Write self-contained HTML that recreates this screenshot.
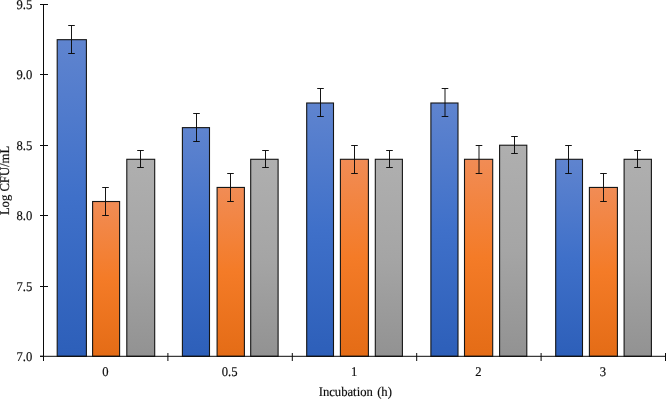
<!DOCTYPE html>
<html><head><meta charset="utf-8"><title>Chart</title>
<style>html,body{margin:0;padding:0;background:#fff}svg{display:block}</style></head>
<body>
<svg width="666" height="399" viewBox="0 0 666 399">
<defs>
<linearGradient id="gb" x1="0" y1="0" x2="0" y2="1"><stop offset="0" stop-color="#5f84cf"/><stop offset="0.5" stop-color="#3f70c9"/><stop offset="1" stop-color="#2d5fb9"/></linearGradient>
<linearGradient id="go" x1="0" y1="0" x2="0" y2="1"><stop offset="0" stop-color="#f18c55"/><stop offset="0.5" stop-color="#f47b27"/><stop offset="1" stop-color="#e46c16"/></linearGradient>
<linearGradient id="gg" x1="0" y1="0" x2="0" y2="1"><stop offset="0" stop-color="#afafaf"/><stop offset="0.5" stop-color="#a5a5a5"/><stop offset="1" stop-color="#929292"/></linearGradient>
</defs>
<rect width="666" height="399" fill="#fff"/>
<g stroke="#151515" stroke-width="1.1">
<rect x="57.20" y="39.68" width="29.20" height="316.62" fill="url(#gb)"/>
<rect x="92.60" y="201.51" width="27.00" height="154.79" fill="url(#go)"/>
<rect x="126.80" y="159.29" width="27.90" height="197.01" fill="url(#gg)"/>
<rect x="182.40" y="127.63" width="27.10" height="228.67" fill="url(#gb)"/>
<rect x="217.10" y="187.44" width="27.30" height="168.86" fill="url(#go)"/>
<rect x="250.70" y="159.29" width="27.40" height="197.01" fill="url(#gg)"/>
<rect x="306.70" y="103.00" width="26.80" height="253.30" fill="url(#gb)"/>
<rect x="340.40" y="159.29" width="28.00" height="197.01" fill="url(#go)"/>
<rect x="375.30" y="159.29" width="27.10" height="197.01" fill="url(#gg)"/>
<rect x="430.90" y="103.00" width="27.10" height="253.30" fill="url(#gb)"/>
<rect x="464.50" y="159.29" width="28.20" height="197.01" fill="url(#go)"/>
<rect x="499.60" y="145.22" width="27.20" height="211.08" fill="url(#gg)"/>
<rect x="555.70" y="159.29" width="26.80" height="197.01" fill="url(#gb)"/>
<rect x="589.40" y="187.44" width="28.00" height="168.86" fill="url(#go)"/>
<rect x="624.10" y="159.29" width="27.30" height="197.01" fill="url(#gg)"/>
</g>
<path d="M71.5 25.5V53.5M68.2 25.5h6.6M68.2 53.5h6.6M105.5 187.5V215.5M102.2 187.5h6.6M102.2 215.5h6.6M140.5 150.5V167.5M137.2 150.5h6.6M137.2 167.5h6.6M196.5 113.5V141.5M193.2 113.5h6.6M193.2 141.5h6.6M230.5 173.5V201.5M227.2 173.5h6.6M227.2 201.5h6.6M265.5 150.5V167.5M262.2 150.5h6.6M262.2 167.5h6.6M320.5 88.5V116.5M317.2 88.5h6.6M317.2 116.5h6.6M354.5 145.5V173.5M351.2 145.5h6.6M351.2 173.5h6.6M389.5 150.5V167.5M386.2 150.5h6.6M386.2 167.5h6.6M445.0 88.5V116.5M441.7 88.5h6.6M441.7 116.5h6.6M479.0 145.5V173.5M475.7 145.5h6.6M475.7 173.5h6.6M514.5 136.5V153.5M511.2 136.5h6.6M511.2 153.5h6.6M568.5 145.5V173.5M565.2 145.5h6.6M565.2 173.5h6.6M603.5 173.5V201.5M600.2 173.5h6.6M600.2 201.5h6.6M637.5 150.5V167.5M634.2 150.5h6.6M634.2 167.5h6.6" stroke="#0a0a0a" stroke-width="0.95" fill="none"/>
<path d="M43.5 4V361M40 356.3H666M40 4.50H48.00M40 74.50H48.00M40 145.50H48.00M40 215.50H48.00M40 286.50H48.00M40 356.30H43.50M167.90 353V361M292.30 353V361M416.70 353V361M541.10 353V361M665.50 353V361" stroke="#0a0a0a" stroke-width="1" fill="none"/>
<g font-family="'Liberation Serif', 'Times New Roman', serif" font-size="13.33" fill="#0d0d0d" stroke="#0d0d0d" stroke-width="0.18" text-rendering="geometricPrecision">
<text transform="translate(32.30 9.35) scale(0.949 1)" text-anchor="end">9.5</text>
<text transform="translate(32.30 79.35) scale(0.949 1)" text-anchor="end">9.0</text>
<text transform="translate(32.30 150.35) scale(0.949 1)" text-anchor="end">8.5</text>
<text transform="translate(32.30 220.35) scale(0.949 1)" text-anchor="end">8.0</text>
<text transform="translate(32.30 291.35) scale(0.949 1)" text-anchor="end">7.5</text>
<text transform="translate(32.30 361.15) scale(0.949 1)" text-anchor="end">7.0</text>
<text transform="translate(105.30 376.30) scale(0.949 1)" text-anchor="middle">0</text>
<text transform="translate(229.70 376.30) scale(0.949 1)" text-anchor="middle">0.5</text>
<text transform="translate(354.10 376.30) scale(0.949 1)" text-anchor="middle">1</text>
<text transform="translate(478.50 376.30) scale(0.949 1)" text-anchor="middle">2</text>
<text transform="translate(602.90 376.30) scale(0.949 1)" text-anchor="middle">3</text>
<text transform="translate(318.70 395.70) scale(0.949 1)">Incubation</text>
<text transform="translate(391.90 395.70) scale(0.949 1)" text-anchor="end">(h)</text>
<text transform="translate(9.45 180.50) rotate(-90) scale(0.949 1)" text-anchor="middle">Log CFU/mL</text>
</g></svg>
</body></html>
